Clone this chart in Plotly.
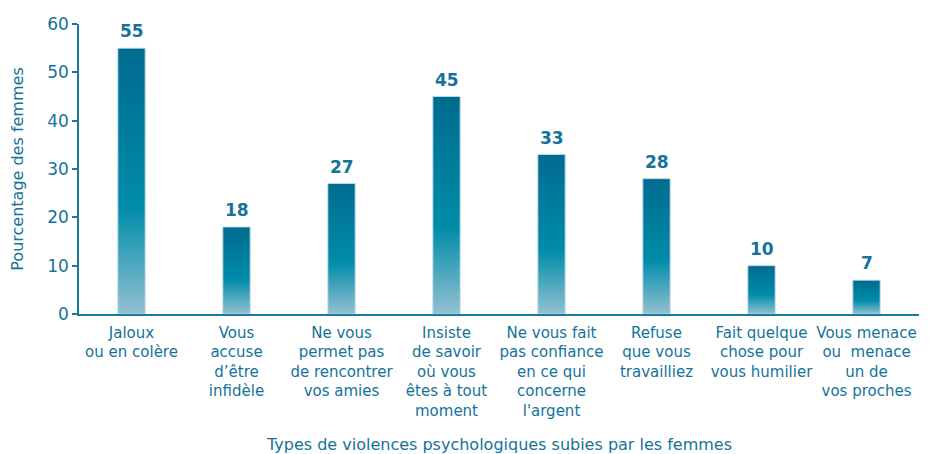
import plotly.graph_objects as go

categories = [
    "Jaloux<br>ou en colère",
    "Vous<br>accuse<br>d’être<br>infidèle",
    "Ne vous<br>permet pas<br>de rencontrer<br>vos amies",
    "Insiste<br>de savoir<br>où vous<br>êtes à tout<br>moment",
    "Ne vous fait<br>pas confiance<br>en ce qui<br>concerne<br>l'argent",
    "Refuse<br>que vous<br>travailliez",
    "Fait quelque<br>chose pour<br>vous humilier",
    "Vous menace<br>ou  menace<br>un de<br>vos proches",
]
values = [55, 18, 27, 45, 33, 28, 10, 7]
y_ticks = [0, 10, 20, 30, 40, 50, 60]

TEXT = "#14739A"
AXIS = "#1A7A9A"
FONT = "DejaVu Sans"
bar_w = 0.26

grad = [[0.0, "#92C0D1"], [0.4, "#008CA9"], [1.0, "#006B8F"]]

fig = go.Figure()
for i, v in enumerate(values):
    x0, x1 = i - bar_w / 2, i + bar_w / 2
    fig.add_trace(go.Scatter(
        x=[x0, x1, x1, x0, x0], y=[0, 0, v, v, 0],
        mode="lines", fill="toself",
        line=dict(color="rgba(190,220,232,0.9)", width=1),
        fillgradient=dict(type="vertical", colorscale=grad),
        hoverinfo="skip", showlegend=False,
    ))

for i, v in enumerate(values):
    fig.add_annotation(
        x=i, y=v, text=f"<b>{v}</b>", showarrow=False,
        yanchor="bottom", yshift=5,
        font=dict(family=FONT, size=17, color=TEXT),
    )

fig.add_annotation(
    x=0.5, y=0, xref="paper", yref="paper", yanchor="middle", yshift=-130,
    text="Types de violences psychologiques subies par les femmes",
    showarrow=False, font=dict(family=FONT, size=16, color=TEXT),
)

fig.update_layout(
    width=932, height=454,
    margin=dict(l=71, r=21, t=16, b=148),
    paper_bgcolor="white", plot_bgcolor="white",
    font=dict(family=FONT, color=TEXT),
    xaxis=dict(
        range=[-0.5, len(values) - 0.5], automargin=False,
        tickmode="array", tickvals=list(range(len(values))), ticktext=categories,
        tickfont=dict(size=15, color=TEXT),
        showgrid=False, zeroline=False,
        showline=True, linecolor=AXIS, linewidth=1.5,
        ticks="", ticklabelstandoff=4,
    ),
    yaxis=dict(
        range=[0, 60], tickvals=y_ticks, automargin=False,
        tickfont=dict(size=17, color=TEXT),
        showgrid=False, zeroline=False,
        showline=True, linecolor=AXIS, linewidth=1.5,
        ticks="outside", ticklen=5, tickcolor=AXIS, tickwidth=1.5,
        title=dict(text="Pourcentage des femmes", font=dict(size=16, color=TEXT), standoff=20),
    ),
)

fig.write_html("out.html")
